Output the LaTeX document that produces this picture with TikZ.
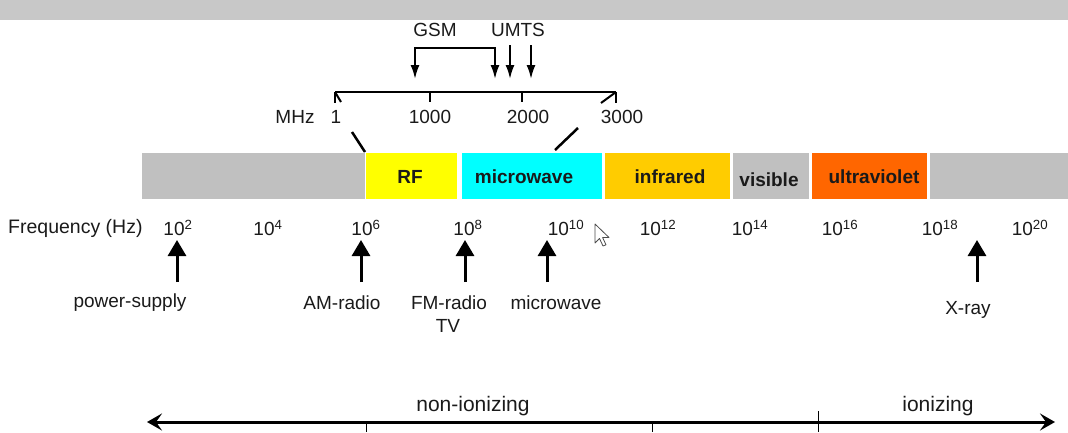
\documentclass[tikz,border=0pt]{standalone}
\usepackage{fontspec}
\setmainfont{Liberation Sans}
\usetikzlibrary{arrows.meta}
\definecolor{topgray}{HTML}{C8C8C8}
\definecolor{bargray}{HTML}{C0C0C0}
\definecolor{rfyellow}{HTML}{FFFF00}
\definecolor{mwcyan}{HTML}{00FFFF}
\definecolor{irorange}{HTML}{FFCC00}
\definecolor{uvorange}{HTML}{FF6600}
\definecolor{txt}{HTML}{1A1A1A}
\tikzset{
  lbl/.style={font=\fontsize{19}{21}\selectfont, text=txt, inner sep=0pt},
  biglbl/.style={font=\fontsize{21}{23}\selectfont, text=txt, inner sep=0pt},
  barlbl/.style={font=\bfseries\fontsize{19}{21}\selectfont, text=txt, inner sep=0pt},
  band/.style={draw=none, inner sep=0pt, minimum height=46pt},
  scaleline/.style={line width=2pt, black},
  downarrow/.style={line width=2pt, -{Latex[length=14pt,width=9pt]}},
  uparrow/.style={line width=3pt, -{Triangle[length=16pt,width=18pt]}},
  axisline/.style={line width=3pt, {Stealth[length=15pt,width=17pt,inset=6pt]}-{Stealth[length=15pt,width=17pt,inset=6pt]}},
  tick/.style={line width=1pt}
}
\begin{document}
\begin{tikzpicture}[x=1pt,y=-1pt]
\useasboundingbox (0,0) rectangle (1068,432);
\fill[topgray] (0,0) rectangle (1068,20);

% spectrum bands
\node[band, fill=bargray, minimum width=223pt] (b1) at (253.5,176) {};
\node[band, fill=rfyellow, minimum width=91pt] (brf) at (411.5,176) {};
\node[band, fill=mwcyan, minimum width=140pt] (bmw) at (532,176) {};
\node[band, fill=irorange, minimum width=125pt] (bir) at (667.5,176) {};
\node[band, fill=bargray, minimum width=76pt] (bvis) at (771,176) {};
\node[band, fill=uvorange, minimum width=115pt] (buv) at (869.5,176) {};
\node[band, fill=bargray, minimum width=138pt] (b2) at (999,176) {};

\node[barlbl] (trf) at (410,177) {RF};
\node[barlbl] (tmw) at (524,177) {microwave};
\node[barlbl] (tir) at (670,177) {infrared};
\node[barlbl] (tvis) at (769,180) {visible};
\node[barlbl] (tuv) at (874,177) {ultraviolet};

% MHz scale
\coordinate (m1) at (335,92);
\coordinate (m1000) at (430,92);
\coordinate (m2000) at (522,92);
\coordinate (m3000) at (616,92);
\draw[scaleline] (m1) -- (m3000);
\draw[scaleline] (m1) -- ++(0,11);
\draw[scaleline] (m1) -- ++(6,10);
\draw[scaleline] (m1000) -- ++(0,10);
\draw[scaleline] (m2000) -- ++(0,10);
\draw[scaleline] (m3000) -- ++(0,11);
\draw[scaleline] (m3000) -- ++(-15,11);

\node[lbl] (mhz) at (295,117) {MHz};
\node[lbl] (l1) at (336,117) {1};
\node[lbl] (l1000) at (430,117) {1000};
\node[lbl] (l2000) at (528,117) {2000};
\node[lbl] (l3000) at (622,117) {3000};

% zoom cut lines
\coordinate (c1a) at (352,132);
\coordinate (c1b) at (365,152);
\coordinate (c2a) at (578,128);
\coordinate (c2b) at (555,150);
\draw[line width=2.5pt] (c1a) -- (c1b);
\draw[line width=2.5pt] (c2a) -- (c2b);

% GSM / UMTS
\node[lbl] (gsm) at (435,30) {GSM};
\node[lbl] (umts) at (518,30) {UMTS};
\coordinate (g1) at (415,79);
\coordinate (g2) at (495,79);
\coordinate (gtop) at (455,48);
\draw[line width=2pt, {Latex[length=14pt,width=9pt]}-{Latex[length=14pt,width=9pt]}]
  (g1) -- (g1 |- gtop) -- (g2 |- gtop) -- (g2);
\coordinate (u1s) at (510,45);
\coordinate (u1e) at (510,79);
\coordinate (u2s) at (531,45);
\coordinate (u2e) at (531,79);
\draw[downarrow] (u1s) -- (u1e);
\draw[downarrow] (u2s) -- (u2e);

% frequency axis labels
\node[lbl, anchor=west, font=\fontsize{19.5}{21}\selectfont] (freq) at (8,228) {Frequency (Hz)};
\node[lbl] (p2) at (178,228) {10\textsuperscript{2}};
\node[lbl] (p4) at (268,228) {10\textsuperscript{4}};
\node[lbl] (p6) at (366,228) {10\textsuperscript{6}};
\node[lbl] (p8) at (468,228) {10\textsuperscript{8}};
\node[lbl] (p10) at (566,228) {10\textsuperscript{10}};
\node[lbl] (p12) at (658,228) {10\textsuperscript{12}};
\node[lbl] (p14) at (750,228) {10\textsuperscript{14}};
\node[lbl] (p16) at (840,228) {10\textsuperscript{16}};
\node[lbl] (p18) at (940,228) {10\textsuperscript{18}};
\node[lbl] (p20) at (1030,228) {10\textsuperscript{20}};

% mouse cursor
\draw[fill=white, draw=black!70, line width=0.8pt, line join=round]
  (595,224) -- (595,243) -- (599.5,238.5) -- (603,246) -- (606,244.8) -- (602.6,237.5) -- (609,237.5) -- cycle;

% up arrows with labels
\node[lbl] (ps) at (130,303) {power-supply};
\node[lbl] (am) at (342,303) {AM-radio};
\node[lbl] (fm) at (449,303) {FM-radio};
\node[lbl] (tv) at (448,326) {TV};
\node[lbl] (mw) at (556,303) {microwave};
\node[lbl] (xr) at (968,310) {X-ray};
\coordinate (a1b) at (177,282); \coordinate (a1t) at (177,240);
\coordinate (a2b) at (361,282); \coordinate (a2t) at (361,240);
\coordinate (a3b) at (465,282); \coordinate (a3t) at (465,240);
\coordinate (a4b) at (547,282); \coordinate (a4t) at (547,240);
\coordinate (a5b) at (977,282); \coordinate (a5t) at (977,240);
\draw[uparrow] (a1b) -- (a1t);
\draw[uparrow] (a2b) -- (a2t);
\draw[uparrow] (a3b) -- (a3t);
\draw[uparrow] (a4b) -- (a4t);
\draw[uparrow] (a5b) -- (a5t);

% ionizing axis
\coordinate (axl) at (147,422);
\coordinate (axr) at (1055,422);
\draw[axisline] (axl) -- (axr);
\draw[tick] (366,422) -- (366,432);
\draw[tick] (652,422) -- (652,432);
\draw[tick] (818,411) -- (818,432);
\node[biglbl] (nonion) at (473,406) {non-ionizing};
\node[biglbl] (ion) at (938,406) {ionizing};
\end{tikzpicture}
\end{document}
